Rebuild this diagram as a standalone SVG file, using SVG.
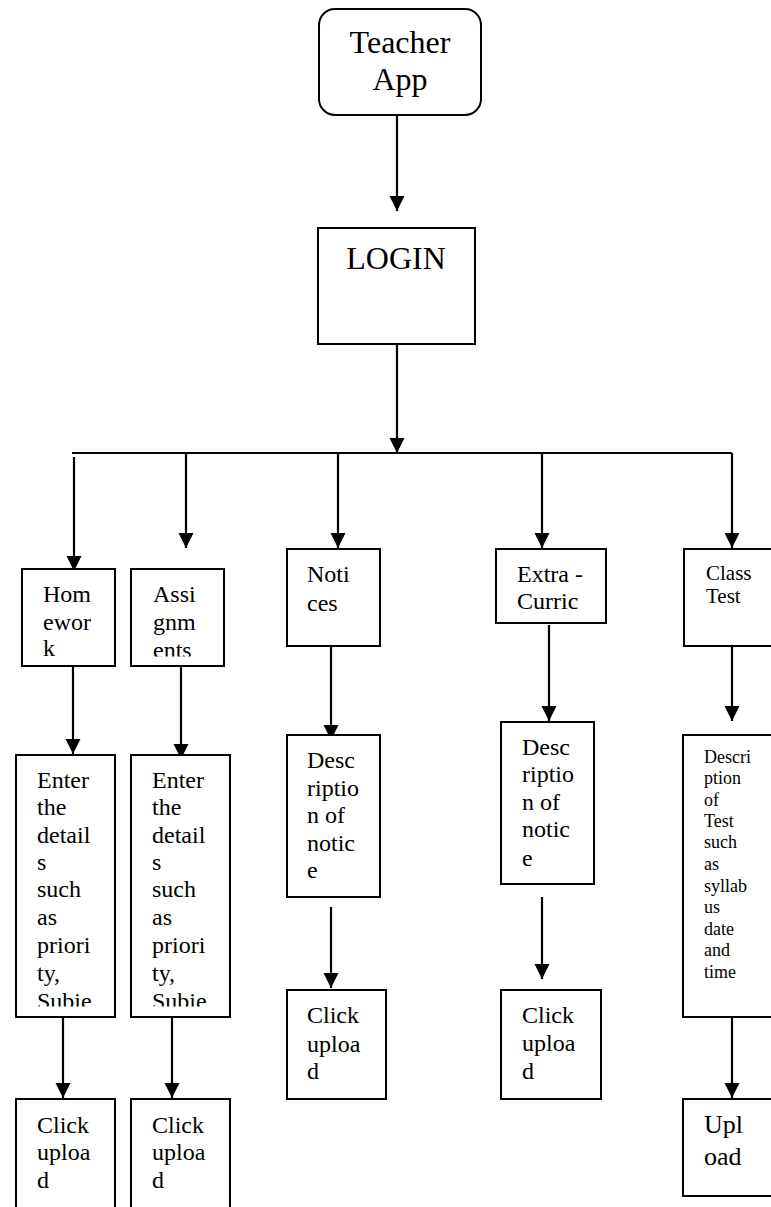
<svg xmlns="http://www.w3.org/2000/svg" width="771" height="1207" viewBox="0 0 771 1207">
<style>
.box{fill:#fff;stroke:#000;stroke-width:2}
.con{fill:none;stroke:#000;stroke-width:2.2}
text{font-family:"Liberation Serif","Times New Roman",serif;fill:#000}
.t24{font-size:24px}
.t32{font-size:32px}
.t21{font-size:21px}
.t18{font-size:18px}
.t26{font-size:26px}
</style>
<defs>
<marker id="ah" markerUnits="userSpaceOnUse" markerWidth="16" markerHeight="16" refX="15" refY="7.5" orient="auto">
<path d="M0,0 L15,7.5 L0,15 z" fill="#000"/>
</marker>
<clipPath id="c1"><rect x="22" y="569" width="93" height="87.5"/></clipPath>
<clipPath id="c2"><rect x="131" y="569" width="93" height="87.5"/></clipPath>
<clipPath id="c3"><rect x="16" y="755" width="99" height="251.5"/></clipPath>
<clipPath id="c4"><rect x="131" y="755" width="99" height="251.5"/></clipPath>
</defs>
<g id="connectors">
<line class="con" x1="397" y1="115" x2="397" y2="211" marker-end="url(#ah)"/>
<line class="con" x1="397" y1="344" x2="397" y2="453" marker-end="url(#ah)"/>
<line class="con" x1="72" y1="453" x2="732" y2="453"/>
<line class="con" x1="74" y1="457" x2="74" y2="571" marker-end="url(#ah)"/>
<line class="con" x1="186" y1="453" x2="186" y2="548" marker-end="url(#ah)"/>
<line class="con" x1="338" y1="453" x2="338" y2="548" marker-end="url(#ah)"/>
<line class="con" x1="542" y1="453" x2="542" y2="548" marker-end="url(#ah)"/>
<line class="con" x1="732" y1="453" x2="732" y2="548" marker-end="url(#ah)"/>
<line class="con" x1="73" y1="666" x2="73" y2="754" marker-end="url(#ah)"/>
<line class="con" x1="181" y1="666" x2="181" y2="759" marker-end="url(#ah)"/>
<line class="con" x1="331" y1="646" x2="331" y2="740" marker-end="url(#ah)"/>
<line class="con" x1="549" y1="625" x2="549" y2="721" marker-end="url(#ah)"/>
<line class="con" x1="732" y1="646" x2="732" y2="721" marker-end="url(#ah)"/>
<line class="con" x1="63" y1="1017" x2="63" y2="1098" marker-end="url(#ah)"/>
<line class="con" x1="172" y1="1017" x2="172" y2="1098" marker-end="url(#ah)"/>
<line class="con" x1="331" y1="907" x2="331" y2="988" marker-end="url(#ah)"/>
<line class="con" x1="542" y1="897" x2="542" y2="979" marker-end="url(#ah)"/>
<line class="con" x1="732" y1="1017" x2="732" y2="1098" marker-end="url(#ah)"/>
</g>
<g id="teacher-app">
<rect class="box" x="319" y="9" width="162" height="106" rx="16"/>
<text class="t32" text-anchor="middle"><tspan x="400" y="53">Teacher</tspan><tspan x="400" y="90">App</tspan></text>
</g>
<g id="login">
<rect class="box" x="318" y="228" width="157" height="116"/>
<text class="t32" x="396" y="269" text-anchor="middle">LOGIN</text>
</g>
<g id="homework">
<rect class="box" x="22" y="569" width="93" height="97"/>
<text class="t24" clip-path="url(#c1)"><tspan x="43" y="602">Hom</tspan><tspan x="43" y="630">ewor</tspan><tspan x="43" y="656">k</tspan></text>
</g>
<g id="assignments">
<rect class="box" x="131" y="569" width="93" height="97"/>
<text class="t24" clip-path="url(#c2)"><tspan x="153" y="602">Assi</tspan><tspan x="153" y="630">gnm</tspan><tspan x="153" y="658">ents</tspan></text>
</g>
<g id="notices">
<rect class="box" x="287" y="549" width="93" height="97"/>
<text class="t24"><tspan x="307" y="582">Noti</tspan><tspan x="307" y="611">ces</tspan></text>
</g>
<g id="extra-curric">
<rect class="box" x="496" y="549" width="110" height="74"/>
<text class="t24"><tspan x="517" y="582">Extra -</tspan><tspan x="517" y="609">Curric</tspan></text>
</g>
<g id="class-test">
<rect class="box" x="684" y="549" width="92" height="97"/>
<text class="t21"><tspan x="706" y="580">Class</tspan><tspan x="706" y="603">Test</tspan></text>
</g>
<g id="hw-details">
<rect class="box" x="16" y="755" width="99" height="262"/>
<text class="t24" clip-path="url(#c3)"><tspan x="37" y="788">Enter</tspan><tspan x="37" y="815">the</tspan><tspan x="37" y="843">detail</tspan><tspan x="37" y="870">s</tspan><tspan x="37" y="897">such</tspan><tspan x="37" y="925">as</tspan><tspan x="37" y="953">priori</tspan><tspan x="37" y="981">ty,</tspan><tspan x="37" y="1009">Subie</tspan></text>
</g>
<g id="as-details">
<rect class="box" x="131" y="755" width="99" height="262"/>
<text class="t24" clip-path="url(#c4)"><tspan x="152" y="788">Enter</tspan><tspan x="152" y="815">the</tspan><tspan x="152" y="843">detail</tspan><tspan x="152" y="870">s</tspan><tspan x="152" y="897">such</tspan><tspan x="152" y="925">as</tspan><tspan x="152" y="953">priori</tspan><tspan x="152" y="981">ty,</tspan><tspan x="152" y="1009">Subie</tspan></text>
</g>
<g id="notice-desc">
<rect class="box" x="287" y="735" width="93" height="162"/>
<text class="t24"><tspan x="307" y="768">Desc</tspan><tspan x="307" y="796">riptio</tspan><tspan x="307" y="823">n of</tspan><tspan x="307" y="851">notic</tspan><tspan x="307" y="878">e</tspan></text>
</g>
<g id="extra-desc">
<rect class="box" x="501" y="722" width="93" height="162"/>
<text class="t24"><tspan x="522" y="755">Desc</tspan><tspan x="522" y="782">riptio</tspan><tspan x="522" y="810">n of</tspan><tspan x="522" y="837">notic</tspan><tspan x="522" y="866">e</tspan></text>
</g>
<g id="test-desc">
<rect class="box" x="683" y="735" width="93" height="282"/>
<text class="t18"><tspan x="704" y="763">Descri</tspan><tspan x="704" y="784">ption</tspan><tspan x="704" y="806">of</tspan><tspan x="704" y="827">Test</tspan><tspan x="704" y="848">such</tspan><tspan x="704" y="870">as</tspan><tspan x="704" y="892">syllab</tspan><tspan x="704" y="913">us</tspan><tspan x="704" y="935">date</tspan><tspan x="704" y="956">and</tspan><tspan x="704" y="978">time</tspan></text>
</g>
<g id="hw-upload">
<rect class="box" x="16" y="1099" width="99" height="120"/>
<text class="t24"><tspan x="37" y="1133">Click</tspan><tspan x="37" y="1160">uploa</tspan><tspan x="37" y="1188">d</tspan></text>
</g>
<g id="as-upload">
<rect class="box" x="131" y="1099" width="99" height="120"/>
<text class="t24"><tspan x="152" y="1133">Click</tspan><tspan x="152" y="1160">uploa</tspan><tspan x="152" y="1188">d</tspan></text>
</g>
<g id="notice-upload">
<rect class="box" x="287" y="990" width="99" height="109"/>
<text class="t24"><tspan x="307" y="1023">Click</tspan><tspan x="307" y="1052">uploa</tspan><tspan x="307" y="1079">d</tspan></text>
</g>
<g id="extra-upload">
<rect class="box" x="501" y="990" width="100" height="109"/>
<text class="t24"><tspan x="522" y="1023">Click</tspan><tspan x="522" y="1051">uploa</tspan><tspan x="522" y="1079">d</tspan></text>
</g>
<g id="test-upload">
<rect class="box" x="683" y="1099" width="93" height="97"/>
<text class="t26"><tspan x="704" y="1133">Upl</tspan><tspan x="704" y="1165">oad</tspan></text>
</g>
</svg>
